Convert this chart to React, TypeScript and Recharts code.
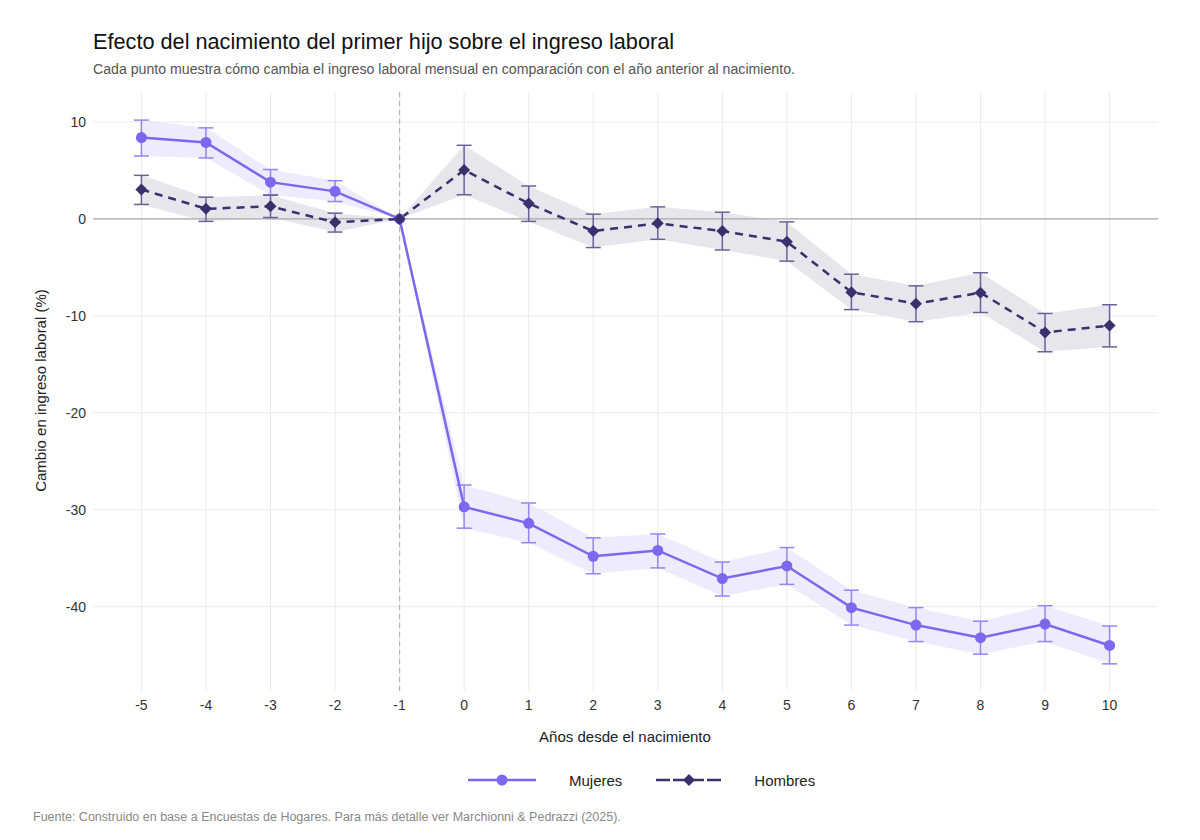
import React from "react";
import {
  Area,
  ComposedChart,
  ErrorBar,
  Line,
  ReferenceLine,
  XAxis,
  YAxis,
} from "recharts";

const years = [-5, -4, -3, -2, -1, 0, 1, 2, 3, 4, 5, 6, 7, 8, 9, 10];

const mujeres = [8.4, 7.9, 3.8, 2.85, 0, -29.7, -31.4, -34.8, -34.2, -37.1, -35.8, -40.1, -41.9, -43.2, -41.8, -44.0];
const mujeresLo = [6.5, 6.3, 2.5, 1.8, 0, -31.9, -33.4, -36.6, -36.0, -38.9, -37.7, -41.9, -43.6, -44.9, -43.6, -45.9];
const mujeresHi = [10.2, 9.4, 5.1, 3.95, 0, -27.45, -29.3, -32.9, -32.5, -35.4, -33.9, -38.3, -40.1, -41.5, -39.9, -42.0];

const hombres = [3.05, 1.05, 1.3, -0.35, 0, 5.05, 1.6, -1.25, -0.45, -1.25, -2.35, -7.55, -8.75, -7.6, -11.7, -11.0];
const hombresLo = [1.5, -0.25, 0.15, -1.35, 0, 2.5, -0.25, -2.95, -2.1, -3.2, -4.35, -9.35, -10.6, -9.65, -13.7, -13.2];
const hombresHi = [4.5, 2.25, 2.45, 0.6, 0, 7.6, 3.4, 0.5, 1.25, 0.7, -0.3, -5.7, -6.9, -5.55, -9.75, -8.85];

const yTicks = [-40, -30, -20, -10, 0, 10];

const MUJ = "#7B68EE";
const HOM = "#3C2F6E";
const GRID = "#ebebeb";
const FONT = "'Liberation Sans', Arial, sans-serif";

const data = years.map((x, i) => ({
  x,
  muj: mujeres[i],
  mujBand: [mujeresLo[i], mujeresHi[i]],
  mujErr: x === -1 ? null : [mujeres[i] - mujeresLo[i], mujeresHi[i] - mujeres[i]],
  hom: hombres[i],
  homBand: [hombresLo[i], hombresHi[i]],
  homErr: x === -1 ? null : [hombres[i] - hombresLo[i], hombresHi[i] - hombres[i]],
}));

const Diamond = (props: any) => {
  const { cx, cy, key } = props;
  if (cx == null || cy == null) return <g key={key} />;
  const s = 6;
  return (
    <path
      key={key}
      d={`M${cx},${cy - s}L${cx + s},${cy}L${cx},${cy + s}L${cx - s},${cy}Z`}
      fill={HOM}
    />
  );
};

const text = (top: number, left: number, size: number, color: string, extra = {}) => ({
  position: "absolute" as const,
  top,
  left,
  fontSize: size,
  color,
  fontFamily: FONT,
  whiteSpace: "nowrap" as const,
  ...extra,
});

export default function App() {
  return (
    <div
      style={{
        position: "absolute",
        top: 0,
        left: 0,
        width: 1200,
        height: 840,
        background: "#fff",
        fontFamily: FONT,
      }}
    >
      <div style={text(29, 93, 21.7, "#111", { lineHeight: "26px" })}>
        Efecto del nacimiento del primer hijo sobre el ingreso laboral
      </div>
      <div style={text(61, 93, 14.15, "#555", { lineHeight: "17px" })}>
        Cada punto muestra cómo cambia el ingreso laboral mensual en comparación con el año anterior al nacimiento.
      </div>

      <ComposedChart
        width={1200}
        height={840}
        data={data}
        margin={{ top: 92, right: 42, bottom: 89, left: 33 }}
        style={{ position: "absolute", top: 0, left: 0 }}
      >
        <XAxis
          type="number"
          dataKey="x"
          domain={[-5.75, 10.75]}
          ticks={years}
          allowDataOverflow
          height={60}
          axisLine={false}
          tickLine={false}
          tickSize={0}
          tickMargin={9}
          tick={{ fill: "#333", fontSize: 14, fontFamily: FONT }}
        />
        <YAxis
          type="number"
          domain={[-48.7, 13.1]}
          ticks={yTicks}
          allowDataOverflow
          width={60}
          axisLine={false}
          tickLine={false}
          tickSize={0}
          tickMargin={7}
          tick={{ fill: "#333", fontSize: 14, fontFamily: FONT }}
        />
        {yTicks.map((t) => (
          <ReferenceLine key={`gy${t}`} y={t} stroke={GRID} strokeWidth={1} />
        ))}
        {years.map((t) => (
          <ReferenceLine key={`gx${t}`} x={t} stroke={GRID} strokeWidth={1} />
        ))}
        <Area
          type="linear"
          dataKey="mujBand"
          stroke="none"
          fill={MUJ}
          fillOpacity={0.13}
          isAnimationActive={false}
          activeDot={false}
        />
        <Area
          type="linear"
          dataKey="homBand"
          stroke="none"
          fill={HOM}
          fillOpacity={0.12}
          isAnimationActive={false}
          activeDot={false}
        />
        <ReferenceLine y={0} stroke="#a8a8a8" strokeWidth={1.2} />
        <ReferenceLine x={-1} stroke="#b5b5b5" strokeWidth={1.2} strokeDasharray="5 4" />
        <Line
          type="linear"
          dataKey="muj"
          stroke={MUJ}
          strokeWidth={2.5}
          dot={{ r: 5.5, fill: MUJ, stroke: MUJ, strokeWidth: 0 }}
          activeDot={false}
          isAnimationActive={false}
        >
          <ErrorBar dataKey="mujErr" direction="y" width={7.5} stroke="#9386F2" strokeWidth={1.5} />
        </Line>
        <Line
          type="linear"
          dataKey="hom"
          stroke={HOM}
          strokeWidth={2.5}
          strokeDasharray="8 6"
          dot={Diamond}
          activeDot={false}
          isAnimationActive={false}
        >
          <ErrorBar dataKey="homErr" direction="y" width={7.5} stroke="#6B6196" strokeWidth={1.5} />
        </Line>
      </ComposedChart>

      <div
        style={text(381, 40, 15, "#222", {
          lineHeight: "19px",
          transform: "translate(-50%, 0) rotate(-90deg)",
          transformOrigin: "50% 50%",
        })}
      >
        Cambio en ingreso laboral (%)
      </div>
      <div
        style={text(727, 625, 15, "#222", {
          lineHeight: "19px",
          transform: "translateX(-50%)",
        })}
      >
        Años desde el nacimiento
      </div>

      <div style={{ position: "absolute", top: 770, left: 466, height: 20, display: "flex", alignItems: "center" }}>
        <svg width={72} height={20}>
          <line x1={2} y1={10} x2={70} y2={10} stroke={MUJ} strokeWidth={2.5} />
          <circle cx={36} cy={10} r={5.5} fill={MUJ} />
        </svg>
        <span style={{ marginLeft: 31, fontSize: 15, color: "#222", fontFamily: FONT }}>Mujeres</span>
        <svg width={72} height={20} style={{ marginLeft: 32 }}>
          <line x1={2} y1={10} x2={70} y2={10} stroke={HOM} strokeWidth={2.5} strokeDasharray="14 3" />
          <path d="M35,4L41,10L35,16L29,10Z" fill={HOM} />
        </svg>
        <span style={{ marginLeft: 28, fontSize: 15, color: "#222", fontFamily: FONT }}>Hombres</span>
      </div>

      <div style={text(809, 33, 12.5, "#888", { lineHeight: "16px" })}>
        Fuente: Construido en base a Encuestas de Hogares. Para más detalle ver Marchionni &amp; Pedrazzi (2025).
      </div>
    </div>
  );
}
